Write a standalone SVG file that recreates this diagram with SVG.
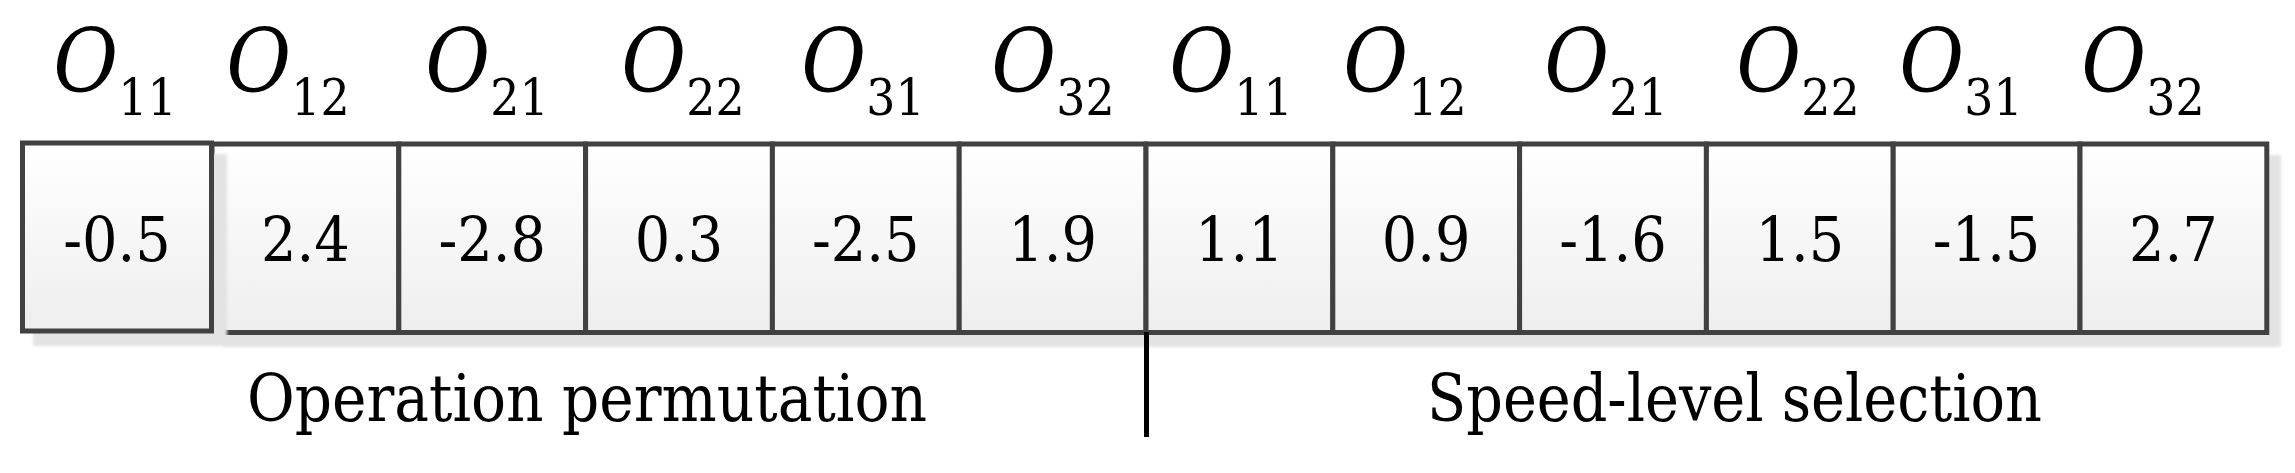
<svg xmlns="http://www.w3.org/2000/svg" width="2295" height="473" viewBox="0 0 2295 473">
<style>
.cell{fill:url(#g);stroke:#414141;stroke-width:5;stroke-linejoin:miter}
.sh{fill:#e3e3e3}
text{font-family:'DejaVu Serif Condensed','DejaVu Serif',serif;font-stretch:condensed;fill:#000;text-anchor:middle}
.val{font-size:62px}
.lab{font-size:88px;font-style:italic}
.sub{font-size:51px;font-style:normal}
.cap{font-size:66px;font-stretch:normal}
</style>
<defs>
<linearGradient id="g" x1="0" y1="0" x2="0" y2="1">
<stop offset="0" stop-color="#ffffff"/>
<stop offset="1" stop-color="#eeeeee"/>
</linearGradient>
<filter id="blur" x="-5%" y="-5%" width="110%" height="110%"><feGaussianBlur stdDeviation="1.5"/></filter>
</defs>
<rect width="2295" height="473" fill="#fff"/>
<g id="labels">
<text class="lab" x="115" y="92">O<tspan class="sub" dy="23">11</tspan></text>
<text class="lab" x="288" y="92">O<tspan class="sub" dy="23">12</tspan></text>
<text class="lab" x="487" y="92">O<tspan class="sub" dy="23">21</tspan></text>
<text class="lab" x="683" y="92">O<tspan class="sub" dy="23">22</tspan></text>
<text class="lab" x="863" y="92">O<tspan class="sub" dy="23">31</tspan></text>
<text class="lab" x="1053" y="92">O<tspan class="sub" dy="23">32</tspan></text>
<text class="lab" x="1231" y="92">O<tspan class="sub" dy="23">11</tspan></text>
<text class="lab" x="1405" y="92">O<tspan class="sub" dy="23">12</tspan></text>
<text class="lab" x="1606" y="92">O<tspan class="sub" dy="23">21</tspan></text>
<text class="lab" x="1798" y="92">O<tspan class="sub" dy="23">22</tspan></text>
<text class="lab" x="1961" y="92">O<tspan class="sub" dy="23">31</tspan></text>
<text class="lab" x="2143" y="92">O<tspan class="sub" dy="23">32</tspan></text>
</g>
<rect class="sh" x="223" y="155" width="2058" height="192" filter="url(#blur)"/>
<g id="c2"><rect class="cell" x="212" y="144" width="186.8" height="188.5"/><text class="val" x="305.4" y="261">2.4</text></g>
<g id="c3"><rect class="cell" x="398.8" y="144" width="186.8" height="188.5"/><text class="val" x="492.2" y="261">-2.8</text></g>
<g id="c4"><rect class="cell" x="585.6" y="144" width="186.8" height="188.5"/><text class="val" x="679" y="261">0.3</text></g>
<g id="c5"><rect class="cell" x="772.4" y="144" width="186.8" height="188.5"/><text class="val" x="865.8" y="261">-2.5</text></g>
<g id="c6"><rect class="cell" x="959.2" y="144" width="186.8" height="188.5"/><text class="val" x="1052.6" y="261">1.9</text></g>
<g id="c7"><rect class="cell" x="1146" y="144" width="186.8" height="188.5"/><text class="val" x="1239.4" y="261">1.1</text></g>
<g id="c8"><rect class="cell" x="1332.8" y="144" width="186.8" height="188.5"/><text class="val" x="1426.2" y="261">0.9</text></g>
<g id="c9"><rect class="cell" x="1519.6" y="144" width="186.8" height="188.5"/><text class="val" x="1613" y="261">-1.6</text></g>
<g id="c10"><rect class="cell" x="1706.4" y="144" width="186.8" height="188.5"/><text class="val" x="1799.8" y="261">1.5</text></g>
<g id="c11"><rect class="cell" x="1893.2" y="144" width="186.8" height="188.5"/><text class="val" x="1986.6" y="261">-1.5</text></g>
<g id="c12"><rect class="cell" x="2080" y="144" width="186.8" height="188.5"/><text class="val" x="2173.4" y="261">2.7</text></g>
<rect class="sh" x="33" y="154" width="194" height="192" filter="url(#blur)"/>
<g id="c1"><rect class="cell" x="22.5" y="143" width="189" height="188"/><text class="val" x="117" y="261">-0.5</text></g>
<g id="connectors">
<line x1="1146.5" y1="332" x2="1146.5" y2="437" stroke="#000" stroke-width="5"/>
</g>
<g id="captions">
<text class="cap" x="587" y="421" textLength="680" lengthAdjust="spacingAndGlyphs">Operation permutation</text>
<text class="cap" x="1734.5" y="421" textLength="615" lengthAdjust="spacingAndGlyphs">Speed-level selection</text>
</g>
</svg>
